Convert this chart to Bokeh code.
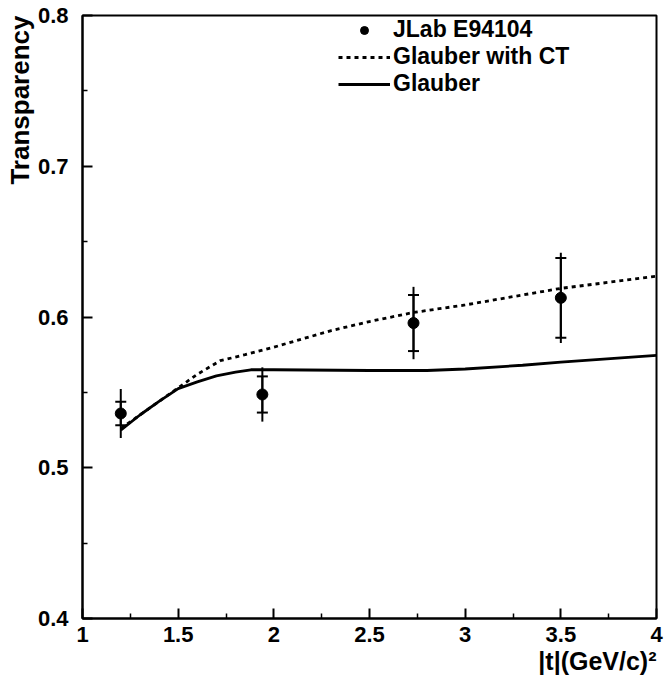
from bokeh.plotting import figure
from bokeh.models import (ColumnDataSource, Range1d, FixedTicker, Whisker, TeeHead,
                          Title, Legend, LegendItem)
from bokeh.embed import file_html
from bokeh.resources import INLINE

# ---- data ----
t_data = [1.2, 1.94, 2.73, 3.5]
T_data = [0.536, 0.5486, 0.596, 0.6127]
err_stat = [0.0078, 0.012, 0.0186, 0.0265]
err_tot = [0.0163, 0.018, 0.024, 0.030]

t_ct = [1.2, 1.3, 1.4, 1.5, 1.6, 1.72, 1.85, 2.0, 2.3, 2.5, 2.73, 3.0, 3.5, 4.0]
T_ct = [0.526, 0.535, 0.544, 0.553, 0.562, 0.571, 0.575, 0.580, 0.591, 0.597, 0.603, 0.608, 0.619, 0.627]

t_gl = [1.2, 1.3, 1.4, 1.5, 1.6, 1.7, 1.8, 1.88, 2.0, 2.5, 2.8, 3.0, 3.3, 3.5, 4.0]
T_gl = [0.525, 0.535, 0.544, 0.5525, 0.557, 0.561, 0.5635, 0.565, 0.565, 0.5645, 0.5645, 0.5655, 0.568, 0.570, 0.5745]

x_ticks = [1, 1.5, 2, 2.5, 3, 3.5, 4]
x_tick_labels = ["1", "1.5", "2", "2.5", "3", "3.5", "4"]
x_minor = [1.25, 1.75, 2.25, 2.75, 3.25, 3.75]
y_ticks = [0.4, 0.5, 0.6, 0.7, 0.8]
y_tick_labels = ["0.4", "0.5", "0.6", "0.7", "0.8"]
y_minor = [0.45, 0.55, 0.65, 0.75]

x_title = "|t|(GeV/c)²"
y_title = "Transparency"
series_labels = ["JLab E94104", "Glauber with CT", "Glauber"]

FONT = "Liberation Sans"

p = figure(width=666, height=680, output_backend="svg", toolbar_location=None,
           x_range=Range1d(1, 4), y_range=Range1d(0.4, 0.8),
           min_border_left=82, min_border_right=10, min_border_top=15, min_border_bottom=62)
p.xgrid.visible = False
p.ygrid.visible = False
p.outline_line_color = "black"
p.outline_line_width = 2
p.background_fill_color = "white"
p.border_fill_color = "white"

for ax, ticks, labels, minor in ((p.xaxis[0], x_ticks, x_tick_labels, x_minor),
                                 (p.yaxis[0], y_ticks, y_tick_labels, y_minor)):
    ax.ticker = FixedTicker(ticks=ticks, minor_ticks=minor)
    ax.major_label_overrides = {t: l for t, l in zip(ticks, labels)}
    ax.axis_line_width = 2
    ax.axis_line_color = "black"
    ax.major_tick_in = 10
    ax.major_tick_out = 0
    ax.minor_tick_in = 5
    ax.minor_tick_out = 0
    ax.major_tick_line_width = 2
    ax.minor_tick_line_width = 1.5
    ax.major_tick_line_color = "black"
    ax.minor_tick_line_color = "black"
    ax.major_label_text_font = FONT
    ax.major_label_text_font_style = "bold"
    ax.major_label_text_font_size = "22px"
    ax.major_label_text_color = "black"
p.xaxis.major_label_standoff = 8
p.yaxis.major_label_standoff = 14

src = ColumnDataSource(dict(
    x=t_data, y=T_data,
    up_tot=[v + e for v, e in zip(T_data, err_tot)],
    lo_tot=[v - e for v, e in zip(T_data, err_tot)],
    up_stat=[v + e for v, e in zip(T_data, err_stat)],
    lo_stat=[v - e for v, e in zip(T_data, err_stat)],
))

r_ct = p.line(t_ct, T_ct, line_color="black", line_width=2.8, line_dash="4 4")
r_gl = p.line(t_gl, T_gl, line_color="black", line_width=2.8)

p.add_layout(Whisker(source=src, base="x", upper="up_tot", lower="lo_tot",
                     dimension="height", line_width=2, line_color="black",
                     upper_head=None, lower_head=None))
p.add_layout(Whisker(source=src, base="x", upper="up_stat", lower="lo_stat",
                     dimension="height", line_width=2, line_color="black",
                     upper_head=TeeHead(size=11, line_width=2, line_color="black"),
                     lower_head=TeeHead(size=11, line_width=2, line_color="black")))
r_pts = p.scatter("x", "y", source=src, size=11, marker="circle",
                  fill_color="black", line_color="black")

legend = Legend(items=[LegendItem(label=series_labels[0], renderers=[r_pts]),
                       LegendItem(label=series_labels[1], renderers=[r_ct]),
                       LegendItem(label=series_labels[2], renderers=[r_gl])],
                location=(256, 521), padding=0, spacing=0, margin=0,
                glyph_width=52, glyph_height=20, label_height=20, label_standoff=3,
                border_line_color=None, background_fill_alpha=0,
                label_text_font=FONT, label_text_font_style="bold",
                label_text_font_size="23px", label_text_color="black")
p.add_layout(legend)

p.add_layout(Title(text=x_title, align="right", standoff=0,
                   text_font=FONT, text_font_style="bold", text_font_size="25px",
                   text_color="black"), "below")
p.add_layout(Title(text=y_title, align="right", standoff=0,
                   text_font=FONT, text_font_style="bold", text_font_size="26px",
                   text_color="black"), "left")

open("out.html", "w").write(file_html(p, INLINE))
